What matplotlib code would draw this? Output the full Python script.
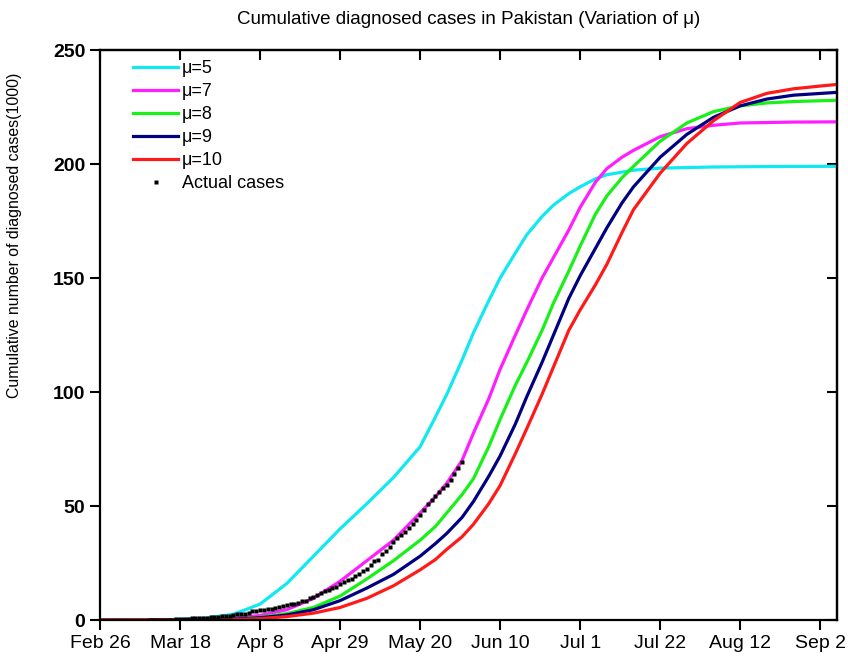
import matplotlib
matplotlib.use('Agg')
import matplotlib.pyplot as plt

plt.rcParams['font.family'] = ['Liberation Sans', 'DejaVu Sans']

# days counted from Feb 26, 2020
tick_days = [0, 21, 42, 63, 84, 105, 126, 147, 168, 189]
tick_labels = ['Feb 26', 'Mar 18', 'Apr 8', 'Apr 29', 'May 20',
               'Jun 10', 'Jul 1', 'Jul 22', 'Aug 12', 'Sep 2']

# model curves (thousands of cases)
mu5_days = [0, 14, 21, 28, 35, 42, 49, 56, 63, 70, 77, 84, 88, 91, 95, 98, 102, 105,
            109, 112, 116, 119, 123, 126, 130, 133, 140, 147, 161, 175, 194]
mu5_vals = [0, 0.1, 0.3, 0.9, 2.5, 7, 16, 28, 40, 51, 62.5, 76, 89, 99, 114, 126, 140, 150,
            161, 169, 177, 182, 187, 190, 193.5, 195.3, 197.3, 198.2, 198.7, 198.9, 199]

mu7_days = [0, 21, 28, 35, 42, 49, 56, 63, 70, 77, 84, 88, 91, 95, 98, 102, 105, 109,
            112, 116, 119, 123, 126, 130, 133, 137, 140, 147, 154, 161, 168, 182, 194]
mu7_vals = [0, 0.1, 0.3, 0.8, 2, 4.5, 9.5, 17, 26, 35, 47, 54, 60, 70, 82, 97, 110, 125,
            136, 150, 159, 171, 181, 192, 198, 203, 206, 212, 215.5, 217, 218, 218.4, 218.5]

mu8_days = [0, 28, 35, 42, 49, 56, 63, 70, 77, 84, 88, 91, 95, 98, 102, 105, 109, 112,
            116, 119, 123, 126, 130, 133, 137, 140, 147, 154, 161, 168, 175, 182, 194]
mu8_vals = [0, 0.2, 0.5, 1.2, 2.8, 5.5, 10.5, 18, 26, 35, 41, 47, 55, 62, 76, 88, 103, 113,
            127, 139, 153, 164, 178, 186, 194, 199, 210, 218, 223, 225.5, 226.8, 227.4, 228]

mu9_days = [0, 28, 35, 42, 49, 56, 63, 70, 77, 84, 88, 91, 95, 98, 102, 105, 109, 112,
            116, 119, 123, 126, 130, 133, 137, 140, 147, 154, 161, 168, 175, 182, 194]
mu9_vals = [0, 0.1, 0.4, 1, 2.2, 4.5, 8.5, 14, 20, 28, 33.5, 38, 45, 52, 63, 72, 86, 98,
            113, 125, 141, 151, 163, 172, 183, 190, 203, 213, 220.5, 225.5, 228.5, 230.2, 231.5]

mu10_days = [0, 35, 42, 49, 56, 63, 70, 77, 84, 88, 91, 95, 98, 102, 105, 109, 112, 116,
             119, 123, 126, 130, 133, 137, 140, 147, 154, 161, 168, 175, 182, 189, 194]
mu10_vals = [0, 0.2, 0.6, 1.5, 3, 5.5, 9.5, 15, 22, 26.5, 31, 36.5, 42, 51, 59, 73, 84, 99,
             111, 127, 136, 147, 156, 170, 180, 196, 209, 219, 227, 231, 233, 234.2, 235]

# actual cumulative cases, Mar 10 (day 13) to May 31 (day 95), thousands
actual_start = 13
actual_vals = [0.019, 0.020, 0.021, 0.028, 0.031, 0.053, 0.136, 0.236, 0.299, 0.454, 0.501,
               0.730, 0.776, 0.875, 0.972, 1.063, 1.201, 1.373, 1.495, 1.597, 1.717, 1.938,
               2.118, 2.421, 2.686, 2.818, 3.157, 3.766, 4.035, 4.263, 4.489, 4.695, 5.038,
               5.374, 5.716, 5.988, 6.383, 6.919, 7.025, 7.638, 8.348, 8.418, 9.565, 10.076,
               11.155, 11.940, 12.723, 13.328, 13.915, 14.612, 15.759, 16.817,
               17.699, 18.114, 19.103, 20.186, 21.501, 22.413, 24.073, 25.837, 26.435, 28.736,
               30.334, 32.081, 34.336, 35.788, 37.218, 38.799, 40.151, 42.125, 43.966, 45.898,
               48.091, 50.694, 52.437, 54.601, 56.349, 57.705, 59.151, 61.227, 64.028, 66.457,
               69.496]
actual_days = list(range(actual_start, actual_start + len(actual_vals)))

fig = plt.figure(figsize=(8.48, 6.6), dpi=100)
ax = fig.add_axes([0.118, 0.0606, 0.869, 0.8636])

lw = 2.3
ax.plot(mu5_days, mu5_vals, color='#10E8F2', lw=lw, label='\u03bc=5')
ax.plot(mu7_days, mu7_vals, color='#FF1EFF', lw=lw, label='\u03bc=7')
ax.plot(mu8_days, mu8_vals, color='#18F018', lw=lw, label='\u03bc=8')
ax.plot(mu9_days, mu9_vals, color='#000080', lw=lw, label='\u03bc=9')
ax.plot(mu10_days, mu10_vals, color='#FF1A1A', lw=lw, label='\u03bc=10')
ax.plot(actual_days, actual_vals, 's', color='black', ms=2.2, mec='none', label='Actual cases')

ax.set_xlim(0, 193.4)
ax.set_ylim(0, 250)
ax.set_xticks(tick_days)
ax.set_xticklabels(tick_labels, fontsize=14)
ax.set_yticks([0, 50, 100, 150, 200, 250])
for t in ax.get_yticklabels():
    t.set_fontsize(14)
    t.set_fontweight('bold')
ax.tick_params(direction='out', length=7, width=1.5)

# inward ticks on top and right
top = ax.secondary_xaxis('top')
top.set_xticks(tick_days)
top.set_xticklabels([])
top.tick_params(direction='in', length=7, width=1.5)
right = ax.secondary_yaxis('right')
right.set_yticks([0, 50, 100, 150, 200, 250])
right.set_yticklabels([])
right.tick_params(direction='in', length=7, width=1.5)

for s in list(ax.spines.values()) + [top.spines['top'], right.spines['right']]:
    s.set_linewidth(1.6)

ax.set_title('Cumulative diagnosed cases in Pakistan (Variation of \u03bc)', fontsize=13.5, pad=19)
ax.set_ylabel('Cumulative number of diagnosed cases(1000)', fontsize=11.4)
ax.yaxis.set_label_coords(-0.106, 0.675)

leg = ax.legend(loc='upper left', bbox_to_anchor=(0.035, 0.995), frameon=False,
                fontsize=13, handlelength=2.5, handletextpad=0.2, labelspacing=0.33,
                borderaxespad=0.0, markerscale=1.5)

fig.savefig('out.png', dpi=100)
